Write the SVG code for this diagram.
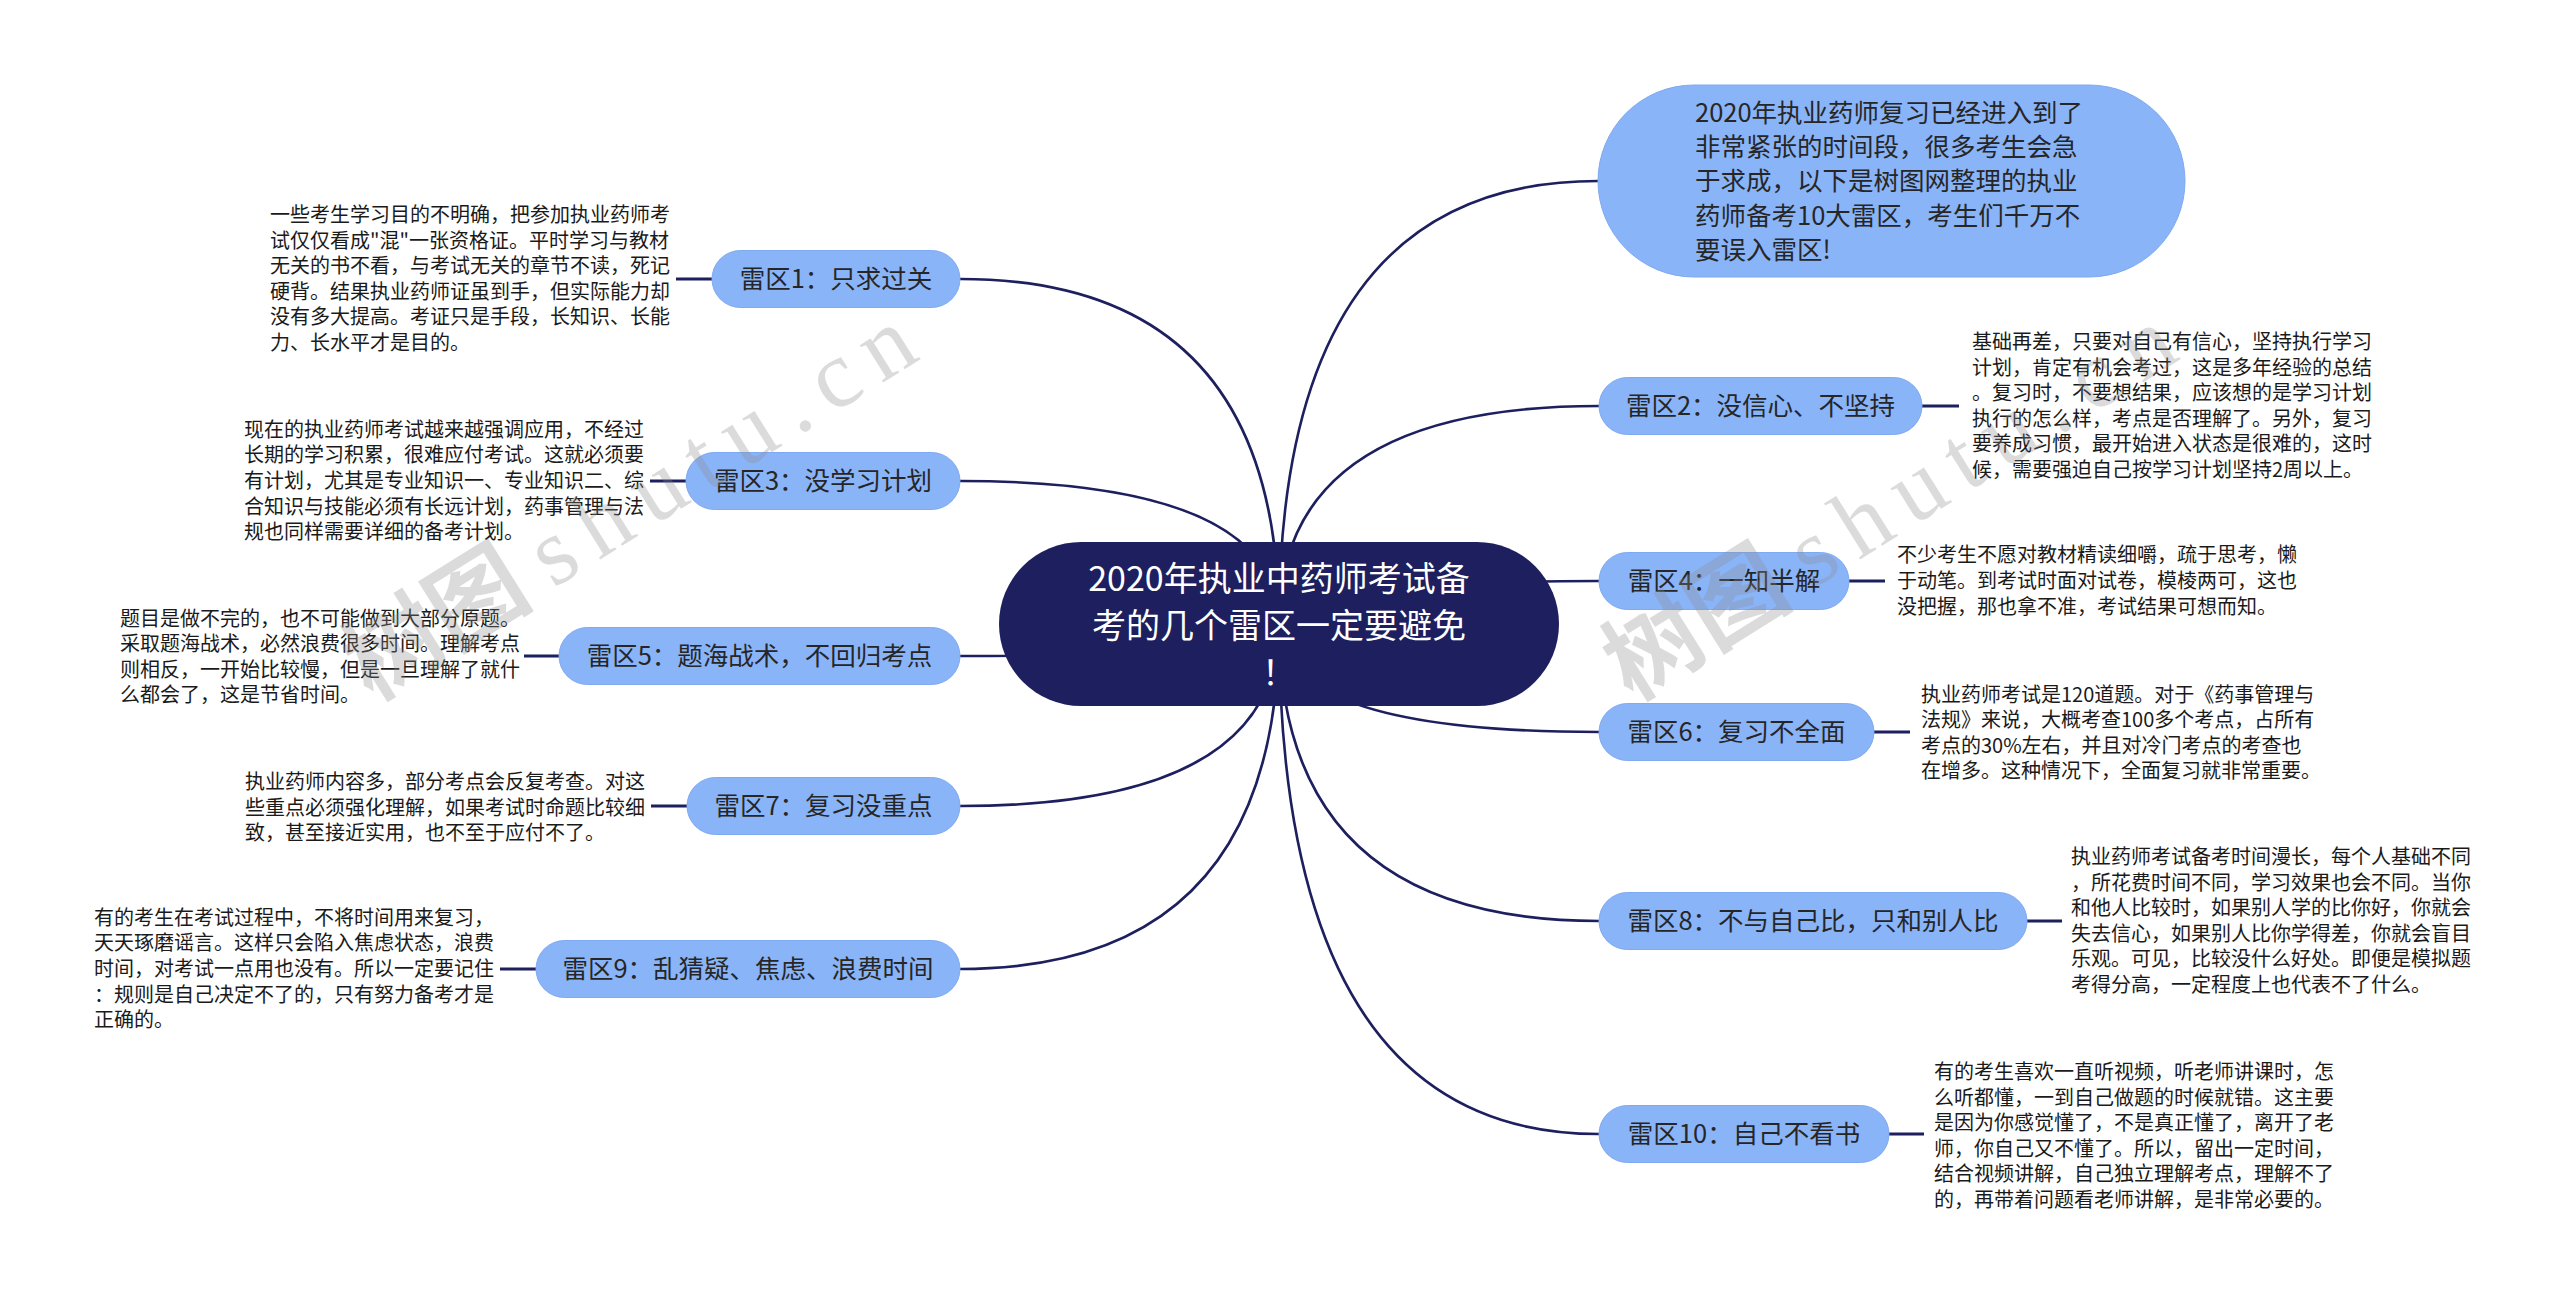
<svg xmlns="http://www.w3.org/2000/svg" width="2560" height="1305" viewBox="0 0 2560 1305">
<style>
.bg{fill:#ffffff}
.conn{fill:none;stroke:#1d1f5e;stroke-width:2.6}
.stub{fill:none;stroke:#1d1f5e;stroke-width:3.2}
.root{fill:#1d1f5e}
.n1{fill:#8ab4f8;stroke:#7fa9f0;stroke-width:1}
.rt{font-family:"Noto Sans CJK SC","Noto Sans",sans-serif;font-size:34px;fill:#ffffff;text-anchor:middle}
.nt{font-family:"Noto Sans CJK SC","Noto Sans",sans-serif;font-size:25.5px;fill:#262626;text-anchor:middle}
.it{font-family:"Noto Sans CJK SC","Noto Sans",sans-serif;font-size:25.5px;fill:#262626}
.dt{font-family:"Noto Sans CJK SC","Noto Sans",sans-serif;font-size:20px;fill:#1a1a1a}
.wm{font-family:"Noto Sans CJK SC",sans-serif;font-size:96px;font-weight:bold;fill:#8c8c8c;opacity:0.3}
.wml{font-family:"Liberation Serif",serif;font-weight:normal;letter-spacing:16px}
</style>
<rect class="bg" x="0" y="0" width="2560" height="1305"/>

<g id="connectors">
<path class="conn" d="M1279 624 Q1279 181 1598 181"/>
<path class="conn" d="M1279 624 Q1279 279 960 279"/>
<path class="conn" d="M1279 624 Q1279 481 960 481"/>
<path class="conn" d="M1279 624 Q1279 656 960 656"/>
<path class="conn" d="M1279 624 Q1279 806 960 806"/>
<path class="conn" d="M1279 624 Q1279 969 960 969"/>
<path class="conn" d="M1279 624 Q1279 406 1599 406"/>
<path class="conn" d="M1279 624 Q1279 581 1599 581"/>
<path class="conn" d="M1279 624 Q1279 732 1599 732"/>
<path class="conn" d="M1279 624 Q1279 921 1599 921"/>
<path class="conn" d="M1279 624 Q1279 1134 1599 1134"/>
<path class="stub" d="M676 279 H712"/>
<path class="stub" d="M650 481 H686"/>
<path class="stub" d="M524 656 H559"/>
<path class="stub" d="M651 806 H687"/>
<path class="stub" d="M500 969 H536"/>
<path class="stub" d="M1922 406 H1959"/>
<path class="stub" d="M1849 581 H1885"/>
<path class="stub" d="M1874 732 H1910"/>
<path class="stub" d="M2027 921 H2062"/>
<path class="stub" d="M1889 1134 H1924"/>
</g>

<g id="root">
<rect class="root" x="999" y="542" width="560" height="164" rx="82"/>
<text class="rt"><tspan x="1279" y="591">2020年执业中药师考试备</tspan><tspan x="1279" y="638">考的几个雷区一定要避免</tspan><tspan x="1279" y="685">！</tspan></text>
</g>

<g id="intro">
<rect class="n1" x="1598" y="85" width="587" height="192" rx="96"/>
<text class="it"><tspan x="1695" y="122">2020年执业药师复习已经进入到了</tspan><tspan x="1695" y="156">非常紧张的时间段，很多考生会急</tspan><tspan x="1695" y="190">于求成，以下是树图网整理的执业</tspan><tspan x="1695" y="225">药师备考10大雷区，考生们千万不</tspan><tspan x="1695" y="259">要误入雷区!</tspan></text>
</g>

<g id="node1">
<rect class="n1" x="712" y="250.5" width="248" height="57" rx="28.5"/>
<text class="nt" x="836" y="288">雷区1：只求过关</text>
<text class="dt"><tspan x="270" y="222">一些考生学习目的不明确，把参加执业药师考</tspan><tspan x="270" y="247.6">试仅仅看成"混"一张资格证。平时学习与教材</tspan><tspan x="270" y="273.2">无关的书不看，与考试无关的章节不读，死记</tspan><tspan x="270" y="298.8">硬背。结果执业药师证虽到手，但实际能力却</tspan><tspan x="270" y="324.4">没有多大提高。考证只是手段，长知识、长能</tspan><tspan x="270" y="350">力、长水平才是目的。</tspan></text>
</g>

<g id="node3">
<rect class="n1" x="686" y="452.5" width="274" height="57" rx="28.5"/>
<text class="nt" x="823" y="490">雷区3：没学习计划</text>
<text class="dt"><tspan x="244" y="436.8">现在的执业药师考试越来越强调应用，不经过</tspan><tspan x="244" y="462.4">长期的学习积累，很难应付考试。这就必须要</tspan><tspan x="244" y="488">有计划，尤其是专业知识一、专业知识二、综</tspan><tspan x="244" y="513.6">合知识与技能必须有长远计划，药事管理与法</tspan><tspan x="244" y="539.2">规也同样需要详细的备考计划。</tspan></text>
</g>

<g id="node5">
<rect class="n1" x="559" y="627.5" width="401" height="57" rx="28.5"/>
<text class="nt" x="759.5" y="665">雷区5：题海战术，不回归考点</text>
<text class="dt"><tspan x="120" y="625.6">题目是做不完的，也不可能做到大部分原题。</tspan><tspan x="120" y="651.2">采取题海战术，必然浪费很多时间。理解考点</tspan><tspan x="120" y="676.8">则相反，一开始比较慢，但是一旦理解了就什</tspan><tspan x="120" y="702.4">么都会了，这是节省时间。</tspan></text>
</g>

<g id="node7">
<rect class="n1" x="687" y="777.5" width="273" height="57" rx="28.5"/>
<text class="nt" x="823.5" y="815">雷区7：复习没重点</text>
<text class="dt"><tspan x="245" y="789">执业药师内容多，部分考点会反复考查。对这</tspan><tspan x="245" y="814.6">些重点必须强化理解，如果考试时命题比较细</tspan><tspan x="245" y="840.2">致，甚至接近实用，也不至于应付不了。</tspan></text>
</g>

<g id="node9">
<rect class="n1" x="536" y="940.5" width="424" height="57" rx="28.5"/>
<text class="nt" x="748" y="978">雷区9：乱猜疑、焦虑、浪费时间</text>
<text class="dt"><tspan x="94" y="924.8">有的考生在考试过程中，不将时间用来复习，</tspan><tspan x="94" y="950.4">天天琢磨谣言。这样只会陷入焦虑状态，浪费</tspan><tspan x="94" y="976">时间，对考试一点用也没有。所以一定要记住</tspan><tspan x="94" y="1001.6">：规则是自己决定不了的，只有努力备考才是</tspan><tspan x="94" y="1027.2">正确的。</tspan></text>
</g>

<g id="node2">
<rect class="n1" x="1599" y="377.5" width="323" height="57" rx="28.5"/>
<text class="nt" x="1760.5" y="415">雷区2：没信心、不坚持</text>
<text class="dt"><tspan x="1972" y="349">基础再差，只要对自己有信心，坚持执行学习</tspan><tspan x="1972" y="374.6">计划，肯定有机会考过，这是多年经验的总结</tspan><tspan x="1972" y="400.2">。复习时，不要想结果，应该想的是学习计划</tspan><tspan x="1972" y="425.8">执行的怎么样，考点是否理解了。另外，复习</tspan><tspan x="1972" y="451.4">要养成习惯，最开始进入状态是很难的，这时</tspan><tspan x="1972" y="477">候，需要强迫自己按学习计划坚持2周以上。</tspan></text>
</g>

<g id="node4">
<rect class="n1" x="1599" y="552.5" width="250" height="57" rx="28.5"/>
<text class="nt" x="1724" y="590">雷区4：一知半解</text>
<text class="dt"><tspan x="1897" y="562.4">不少考生不愿对教材精读细嚼，疏于思考，懒</tspan><tspan x="1897" y="588">于动笔。到考试时面对试卷，模棱两可，这也</tspan><tspan x="1897" y="613.6">没把握，那也拿不准，考试结果可想而知。</tspan></text>
</g>

<g id="node6">
<rect class="n1" x="1599" y="703.5" width="275" height="57" rx="28.5"/>
<text class="nt" x="1736.5" y="741">雷区6：复习不全面</text>
<text class="dt"><tspan x="1921" y="701.6">执业药师考试是120道题。对于《药事管理与</tspan><tspan x="1921" y="727.2">法规》来说，大概考查100多个考点，占所有</tspan><tspan x="1921" y="752.8">考点的30%左右，并且对冷门考点的考查也</tspan><tspan x="1921" y="778.4">在增多。这种情况下，全面复习就非常重要。</tspan></text>
</g>

<g id="node8">
<rect class="n1" x="1599" y="892.5" width="428" height="57" rx="28.5"/>
<text class="nt" x="1813" y="930">雷区8：不与自己比，只和别人比</text>
<text class="dt"><tspan x="2071" y="864">执业药师考试备考时间漫长，每个人基础不同</tspan><tspan x="2071" y="889.6">，所花费时间不同，学习效果也会不同。当你</tspan><tspan x="2071" y="915.2">和他人比较时，如果别人学的比你好，你就会</tspan><tspan x="2071" y="940.8">失去信心，如果别人比你学得差，你就会盲目</tspan><tspan x="2071" y="966.4">乐观。可见，比较没什么好处。即便是模拟题</tspan><tspan x="2071" y="992">考得分高，一定程度上也代表不了什么。</tspan></text>
</g>

<g id="node10">
<rect class="n1" x="1599" y="1105.5" width="290" height="57" rx="28.5"/>
<text class="nt" x="1744" y="1143">雷区10：自己不看书</text>
<text class="dt"><tspan x="1934" y="1079">有的考生喜欢一直听视频，听老师讲课时，怎</tspan><tspan x="1934" y="1104.6">么听都懂，一到自己做题的时候就错。这主要</tspan><tspan x="1934" y="1130.2">是因为你感觉懂了，不是真正懂了，离开了老</tspan><tspan x="1934" y="1155.8">师，你自己又不懂了。所以，留出一定时间，</tspan><tspan x="1934" y="1181.4">结合视频讲解，自己独立理解考点，理解不了</tspan><tspan x="1934" y="1207">的，再带着问题看老师讲解，是非常必要的。</tspan></text>
</g>

<g id="watermarks">
<text class="wm" transform="translate(372,702) rotate(-32)">树图 <tspan class="wml">shutu.cn</tspan></text>
<text class="wm" transform="translate(1632,702) rotate(-32)">树图 <tspan class="wml">shutu.cn</tspan></text>
</g>
</svg>
